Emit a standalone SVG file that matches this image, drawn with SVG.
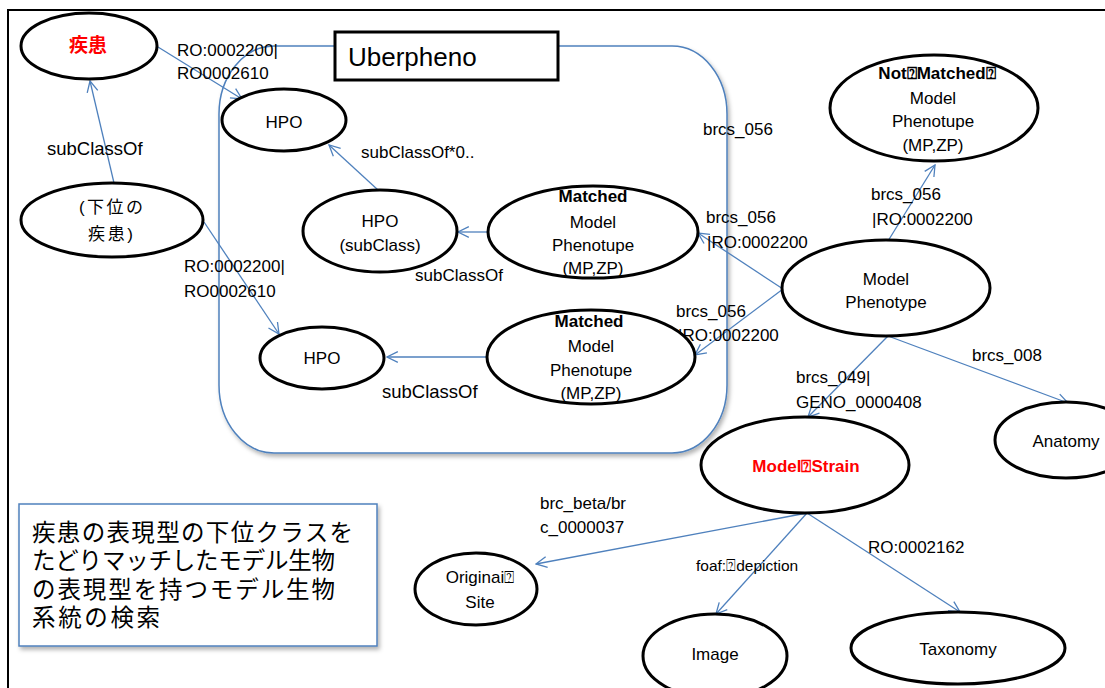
<svg xmlns="http://www.w3.org/2000/svg" width="1105" height="688" viewBox="0 0 1105 688">
<style>
.nd{fill:#fff;stroke:#000;stroke-width:3}
.t{font-family:"Liberation Sans",Arial,sans-serif;font-size:17px;fill:#000}
.c{text-anchor:middle}
.b{font-weight:bold}
.red{fill:#ff0000}
.jp{font-family:"Liberation Sans","Noto Sans CJK JP",sans-serif}
.cn line{stroke:#4F81BD;stroke-width:1.3;marker-end:url(#arr)}
</style>
<defs>
<marker id="arr" markerUnits="userSpaceOnUse" viewBox="0 0 12 12" markerWidth="13" markerHeight="13" refX="11" refY="6" orient="auto">
<path d="M1,1 L11,6 L1,11" fill="none" stroke="#4F81BD" stroke-width="1.2"/>
</marker>
<filter id="sh" x="-5%" y="-5%" width="112%" height="115%">
<feDropShadow dx="2" dy="3" stdDeviation="2" flood-color="#000" flood-opacity="0.3"/>
</filter>
</defs>
<rect x="8" y="10" width="1110" height="690" fill="#fff" stroke="#000" stroke-width="2"/>
<g id="uberpheno-container">
<rect x="219" y="46" width="508" height="407" rx="55" ry="68" fill="#fff" stroke="#4F81BD" stroke-width="1.5" filter="url(#sh)"/>
</g>
<g id="uberpheno-label">
<rect x="335" y="32" width="223" height="48" fill="#fff" stroke="#000" stroke-width="3"/>
<text class="t" x="348" y="66" style="font-size:26px">Uberpheno</text>
</g>
<g class="cn" id="connectors">
<line x1="158" y1="47" x2="242" y2="99"/>
<line x1="114" y1="183" x2="90" y2="81"/>
<line x1="204" y1="222" x2="279" y2="334"/>
<line x1="378" y1="190" x2="329" y2="145"/>
<line x1="489" y1="232" x2="458" y2="232"/>
<line x1="487" y1="357" x2="387" y2="357"/>
<line x1="783" y1="289" x2="698" y2="233"/>
<line x1="783" y1="289" x2="695" y2="355"/>
<line x1="888" y1="241" x2="935" y2="165"/>
<line x1="888" y1="336" x2="808" y2="417"/>
<line x1="888" y1="336" x2="1068" y2="403"/>
<line x1="807" y1="513" x2="536" y2="564"/>
<line x1="807" y1="513" x2="716" y2="614"/>
<line x1="807" y1="513" x2="960" y2="612"/>
</g>
<g id="edge-labels">
<text class="t" x="177" y="56">RO:0002200|</text>
<text class="t" x="177" y="79">RO0002610</text>
<text class="t" x="47" y="155" style="font-size:18.5px">subClassOf</text>
<text class="t" x="184" y="272">RO:0002200|</text>
<text class="t" x="184" y="297">RO0002610</text>
<text class="t" x="361" y="158">subClassOf*0..</text>
<text class="t" x="415" y="281">subClassOf</text>
<text class="t" x="382" y="398" style="font-size:18.5px">subClassOf</text>
<text class="t" x="703" y="135">brcs_056</text>
<text class="t" x="706" y="223">brcs_056</text>
<text class="t" x="707" y="248">|RO:0002200</text>
<text class="t" x="676" y="317">brcs_056</text>
<text class="t" x="678" y="341">|RO:0002200</text>
<text class="t" x="871" y="200">brcs_056</text>
<text class="t" x="872" y="225">|RO:0002200</text>
<text class="t" x="796" y="383">brcs_049|</text>
<text class="t" x="796" y="408">GENO_0000408</text>
<text class="t" x="972" y="361">brcs_008</text>
<text class="t" x="540" y="509">brc_beta/br</text>
<text class="t" x="540" y="533">c_0000037</text>
<text class="t" x="696" y="571" style="font-size:15.5px">foaf:⍰depiction</text>
<text class="t" x="868" y="553">RO:0002162</text>
</g>
<g id="disease">
<ellipse class="nd" cx="89" cy="46" rx="68" ry="33"/>
<text class="t c b red jp" x="88" y="52" style="font-size:19px">疾患</text>
</g>
<g id="sub-disease">
<ellipse class="nd" cx="112" cy="220" rx="91" ry="37"/>
<text class="t jp" x="79" y="213" textLength="64" lengthAdjust="spacing">(下位の</text>
<text class="t jp" x="88" y="240" textLength="45" lengthAdjust="spacing">疾患)</text>
</g>
<g id="hpo-top">
<ellipse class="nd" cx="284" cy="120" rx="62" ry="31"/>
<text class="t c" x="284" y="128">HPO</text>
</g>
<g id="hpo-subclass">
<ellipse class="nd" cx="380" cy="231" rx="77" ry="41"/>
<text class="t c" x="380" y="227">HPO</text>
<text class="t c" x="380" y="251">(subClass)</text>
</g>
<g id="matched-upper">
<ellipse class="nd" cx="593" cy="232" rx="105" ry="46"/>
<text class="t c b" x="593" y="202">Matched</text>
<text class="t c" x="593" y="228">Model</text>
<text class="t c" x="593" y="251">Phenotupe</text>
<text class="t c" x="593" y="274">(MP,ZP)</text>
</g>
<g id="hpo-bottom">
<ellipse class="nd" cx="322" cy="358" rx="62" ry="31"/>
<text class="t c" x="322" y="364">HPO</text>
</g>
<g id="matched-lower">
<ellipse class="nd" cx="591" cy="357" rx="104" ry="47"/>
<text class="t c b" x="589" y="327">Matched</text>
<text class="t c" x="591" y="352">Model</text>
<text class="t c" x="591" y="376">Phenotupe</text>
<text class="t c" x="591" y="399">(MP,ZP)</text>
</g>
<g id="not-matched">
<ellipse class="nd" cx="934" cy="108" rx="104" ry="53"/>
<text class="t c b" x="937" y="79">Not⍰Matched⍰</text>
<text class="t c" x="933" y="104">Model</text>
<text class="t c" x="933" y="127">Phenotupe</text>
<text class="t c" x="933" y="151">(MP,ZP)</text>
</g>
<g id="model-phenotype">
<ellipse class="nd" cx="886" cy="288" rx="104" ry="48"/>
<text class="t c" x="886" y="285">Model</text>
<text class="t c" x="886" y="308">Phenotype</text>
</g>
<g id="anatomy">
<ellipse class="nd" cx="1066" cy="440" rx="71" ry="38"/>
<text class="t c" x="1066" y="447">Anatomy</text>
</g>
<g id="model-strain">
<ellipse class="nd" cx="805" cy="465" rx="104" ry="48"/>
<text class="t c b red" x="806" y="472">Model⍰Strain</text>
</g>
<g id="original-site">
<ellipse class="nd" cx="476" cy="589" rx="61" ry="36"/>
<text class="t c" x="480" y="583">Originai⍰</text>
<text class="t c" x="480" y="608">Site</text>
</g>
<g id="image">
<ellipse class="nd" cx="715" cy="656" rx="72" ry="42"/>
<text class="t c" x="715" y="660">Image</text>
</g>
<g id="taxonomy">
<ellipse class="nd" cx="958" cy="648" rx="107" ry="36"/>
<text class="t c" x="958" y="655">Taxonomy</text>
</g>
<g id="description">
<rect x="19" y="504" width="358" height="142" fill="#fff" stroke="#4F81BD" stroke-width="1.5" filter="url(#sh)"/>
<text class="t jp" x="32" y="541" style="font-size:23.5px" textLength="321" lengthAdjust="spacing">疾患の表現型の下位クラスを</text>
<text class="t jp" x="32" y="569" style="font-size:23.5px" textLength="303" lengthAdjust="spacing">たどりマッチしたモデル生物</text>
<text class="t jp" x="32" y="598" style="font-size:23.5px" textLength="303" lengthAdjust="spacing">の表現型を持つモデル生物</text>
<text class="t jp" x="32" y="626" style="font-size:23.5px" textLength="128" lengthAdjust="spacing">系統の検索</text>
</g>
</svg>
